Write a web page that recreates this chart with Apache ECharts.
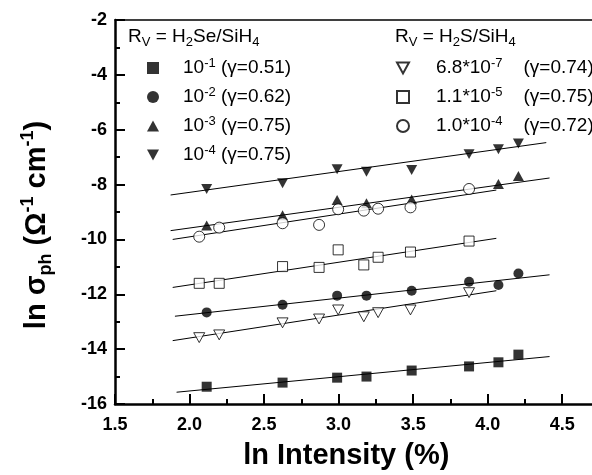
<!DOCTYPE html>
<html>
<head>
<meta charset="utf-8">
<script src="https://cdn.jsdelivr.net/npm/echarts@6/dist/echarts.min.js"></script>
<style>
  html, body { margin: 0; padding: 0; background: #fff; overflow: hidden; }
  #chart { width: 592px; height: 475px; }
</style>
</head>
<body>
<div id="chart"></div>
<script>
// ---- data ----
// H2Se-doped series share these ln(intensity) positions
const xSe = [2.115, 2.624, 2.99, 3.187, 3.49, 3.875, 4.072, 4.206];
const xSe3 = [2.115, 2.624, 2.99, 3.187, 3.49, 4.072, 4.206];
// H2S-doped series positions
const xS = [2.065, 2.199, 2.624, 2.869, 2.997, 3.169, 3.265, 3.482, 3.875];

const ySe1 = [-15.37, -15.22, -15.04, -15.00, -14.78, -14.63, -14.48, -14.20];
const ySe2 = [-12.66, -12.38, -12.05, -12.05, -11.87, -11.54, -11.66, -11.24];
const ySe3 = [-9.49, -9.12, -8.56, -8.68, -8.54, -7.98, -7.69];
const ySe4 = [-8.16, -7.95, -7.44, -7.53, -7.47, -6.89, -6.71, -6.50];

const yS1 = [-13.58, -13.48, -13.04, -12.90, -12.57, -12.82, -12.67, -12.57, -11.94];
const yS2 = [-11.60, -11.60, -10.99, -11.02, -10.38, -10.93, -10.65, -10.46, -10.06];
const yS3 = [-9.90, -9.57, -9.41, -9.47, -8.90, -8.95, -8.88, -8.83, -8.16];

// fitted lines: [x start, x end], [y start, y end]
const fitSe1 = [[1.913, 4.415], [-15.57, -14.27]];
const fitSe2 = [[1.902, 4.415], [-12.80, -11.29]];
const fitSe3 = [[1.873, 4.415], [-9.68, -7.76]];
const fitSe4 = [[1.873, 4.393], [-8.38, -6.47]];
const fitS1 = [[1.887, 4.058], [-13.69, -11.87]];
const fitS2 = [[1.887, 4.058], [-11.75, -9.96]];
const fitS3 = [[1.887, 4.058], [-10.00, -8.20]];

// legend labels (rich text)
const legSe = ['10{sup|-1} (γ=0.51)', '10{sup|-2} (γ=0.62)', '10{sup|-3} (γ=0.75)', '10{sup|-4} (γ=0.75)'];
const legS = ['6.8*10{sup|-7}{g| }(γ=0.74)', '1.1*10{sup|-5}{g| }(γ=0.75)', '1.0*10{sup|-4}{g| }(γ=0.72)'];
const headSe = 'R{sub|V} = H{sub|2}Se/SiH{sub|4}';
const headS = 'R{sub|V} = H{sub|2}S/SiH{sub|4}';
const xTitle = 'ln Intensity (%)';
const yTitle = 'ln σ{sub|ph} (Ω{sup|-1} cm{sup|-1})';

// ---- chart ----
const FONT = '"Liberation Sans", Arial, Helvetica, sans-serif';
const pairs = (xs, ys) => xs.map((x, i) => [x, ys[i]]);
const DOWN = 'path://M0,0L10,0L5,9Z';
const UP = 'path://M5,0L10,9L0,9Z';
const SQUARE = 'path://M0,0L10,0L10,10L0,10Z';

const seNames = ['se1', 'se2', 'se3', 'se4'];
const sNames = ['s1', 's2', 's3'];
const labelMap = {};
seNames.forEach((n, i) => labelMap[n] = '{p1| }' + legSe[i]);
sNames.forEach((n, i) => labelMap[n] = '{p2| }' + legS[i]);

const filled = { color: '#000' };
const open = { color: '#fff', borderColor: '#000', borderWidth: 1 };

function scatter(name, data, symbol, size, style) {
  return {
    type: 'scatter', name, data, symbol, symbolSize: size, symbolKeepAspect: true,
    itemStyle: style, z: 3, emphasis: { disabled: true }, silent: true
  };
}
function fit(name, f) {
  return {
    type: 'line', name, data: pairs(f[0], f[1]), showSymbol: false, symbol: 'none',
    lineStyle: { color: '#000', width: 1 }, z: 2, silent: true, animation: false
  };
}

const legRich = {
  sup: { fontSize: 13, lineHeight: 11, verticalAlign: 'top', fontFamily: FONT, color: '#000' },
  g: { width: 21, fontSize: 19, fontFamily: FONT },
  p1: { width: 19, fontSize: 19, fontFamily: FONT },
  p2: { width: 22, fontSize: 19, fontFamily: FONT }
};
const headRich = {
  sub: { fontSize: 13, lineHeight: 12, verticalAlign: 'bottom', fontFamily: FONT, color: '#000' }
};
const legText = { fontSize: 19, color: '#000', fontFamily: FONT, lineHeight: 22, rich: legRich };

const option = {
  animation: false,
  backgroundColor: '#fff',
  title: [
    { text: headSe, left: 128, top: 25, padding: 0,
      textStyle: { fontSize: 19, fontWeight: 'normal', color: '#000', fontFamily: FONT, lineHeight: 24, rich: headRich } },
    { text: headS, left: 395, top: 25, padding: 0,
      textStyle: { fontSize: 19, fontWeight: 'normal', color: '#000', fontFamily: FONT, lineHeight: 24, rich: headRich } }
  ],
  legend: [
    { data: seNames, orient: 'vertical', left: 147, top: 57, padding: 0,
      itemWidth: 12, itemHeight: 12, itemGap: 7, selectedMode: false,
      formatter: n => labelMap[n], textStyle: legText },
    { data: sNames, orient: 'vertical', left: 396, top: 57, padding: 0,
      itemWidth: 12, itemHeight: 12, itemGap: 7, selectedMode: false,
      formatter: n => labelMap[n], textStyle: legText }
  ],
  grid: { left: 115, right: -7.5, top: 20, bottom: 71, outerBoundsMode: 'none', containLabel: false },
  xAxis: [
    {
      type: 'value', min: 1.5, max: 4.75, interval: 0.5, position: 'bottom',
      axisLine: { show: true, onZero: false, lineStyle: { color: '#000', width: 2.5 } },
      axisTick: { show: true, inside: true, length: 10, lineStyle: { color: '#000', width: 2 } },
      minorTick: { show: true, splitNumber: 2, length: 5, lineStyle: { color: '#000', width: 2 } },
      splitLine: { show: false },
      axisLabel: {
        margin: 12, fontSize: 18, fontWeight: 'bold', color: '#000', fontFamily: FONT,
        showMaxLabel: false,
        formatter: v => (Math.abs(v * 2 - Math.round(v * 2)) < 1e-6 ? v.toFixed(1) : '')
      },
      name: xTitle, nameLocation: 'middle', nameGap: 37,
      nameTextStyle: { fontSize: 29, fontWeight: 'bold', color: '#000', fontFamily: FONT, padding: [0, 22, 0, 0] }
    },
    {
      type: 'value', min: 1.5, max: 4.75, position: 'top',
      axisLine: { show: true, onZero: false, lineStyle: { color: '#000', width: 1.5 } },
      axisTick: { show: false }, axisLabel: { show: false }, splitLine: { show: false }
    }
  ],
  yAxis: {
    type: 'value', min: -16, max: -2, interval: 2,
    axisLine: { show: true, onZero: false, lineStyle: { color: '#000', width: 2.5 } },
    axisTick: { show: true, inside: true, length: 10, lineStyle: { color: '#000', width: 2 } },
    minorTick: { show: true, splitNumber: 2, length: 5, lineStyle: { color: '#000', width: 2 } },
    splitLine: { show: false },
    axisLabel: { margin: 8, fontSize: 18, fontWeight: 'bold', color: '#000', fontFamily: FONT },
    name: yTitle, nameLocation: 'middle', nameGap: 60, nameRotate: 90,
    nameTextStyle: {
      fontSize: 29, fontWeight: 'bold', color: '#000', fontFamily: FONT, lineHeight: 36,
      padding: [0, 26, 0, 0],
      rich: {
        sub: { fontSize: 18, fontWeight: 'bold', lineHeight: 16, verticalAlign: 'bottom', fontFamily: FONT, color: '#000' },
        sup: { fontSize: 18, fontWeight: 'bold', lineHeight: 16, verticalAlign: 'top', fontFamily: FONT, color: '#000' }
      }
    }
  },
  series: [
    fit('f1', fitSe1), fit('f2', fitSe2), fit('f3', fitSe3), fit('f4', fitSe4),
    fit('f5', fitS1), fit('f6', fitS2), fit('f7', fitS3),
    scatter('se1', pairs(xSe, ySe1), SQUARE, 10, filled),
    scatter('se2', pairs(xSe, ySe2), 'circle', 10, filled),
    scatter('se3', pairs(xSe3, ySe3), UP, 11, filled),
    scatter('se4', pairs(xSe, ySe4), DOWN, 11, filled),
    scatter('s1', pairs(xS, yS1), DOWN, 11, open),
    scatter('s2', pairs(xS, yS2), SQUARE, 10, open),
    scatter('s3', pairs(xS, yS3), 'circle', 11, open)
  ]
};

const chart = echarts.init(document.getElementById('chart'), null, { renderer: 'canvas' });
chart.setOption(option);
</script>
</body>
</html>
